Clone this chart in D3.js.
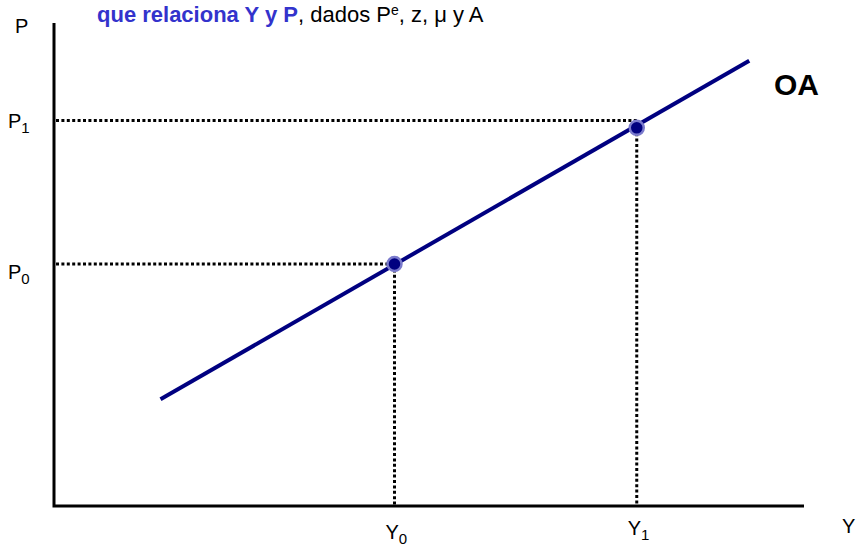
<!DOCTYPE html>
<html>
<head>
<meta charset="utf-8">
<script src="https://cdn.jsdelivr.net/npm/d3@7"></script>
<style>
  html, body { margin: 0; padding: 0; background: #fff; }
  svg { display: block; font-family: Arial, "Liberation Sans", sans-serif; }
</style>
</head>
<body>
<svg id="chart" width="860" height="547"></svg>
<script>
// abstract units, both axes 0..10
const curveOA = [[1.42, 2.21], [9.27, 9.22]];
const eqPoints = [
    { y: 4.54, p: 5.01 },
    { y: 7.77, p: 7.83 },
];
const guideLevels = [
    { y: 4.54, p: 5.01 },
    { y: 7.77, p: 7.98 },
];
const xTickLabels = [
    { v: 4.54, name: 'Y', sub: '0', dy: 13 },
    { v: 7.77, name: 'Y', sub: '1', dy: 9 },
];
const yTickLabels = [
    { v: 5.01, name: 'P', sub: '0', dy: 15 },
    { v: 7.98, name: 'P', sub: '1', dy: 7 },
];

const C = {
    navy: '#000080',
    ring: '#7a7acc',
    blue: '#3333cc',
};

const svg = d3.select('#chart');
const x = d3.scaleLinear().domain([0, 10]).range([54, 804]);
const y = d3.scaleLinear().domain([0, 10]).range([506, 23]);

// title fragment
const title = svg.append('text')
    .attr('x', 97)
    .attr('y', 22)
    .style('font-size', '22px');
title.append('tspan').attr('fill', C.blue).style('font-weight', 'bold').text('que relaciona Y y P');
title.append('tspan').attr('fill', '#000').text(', dados P');
title.append('tspan').attr('fill', '#000').attr('dy', -7).style('font-size', '14px').text('e');
title.append('tspan').attr('fill', '#000').attr('dy', 7).text(', z, μ y A');

// axes
svg.append('path')
    .attr('d', d3.line()([[x(0), y(10)], [x(0), y(0)], [x(10), y(0)]]))
    .attr('fill', 'none')
    .attr('stroke', '#000')
    .attr('stroke-width', 3);

svg.append('text').attr('x', 15).attr('y', 33).style('font-size', '20px').text('P');
svg.append('text').attr('x', 842).attr('y', 533).style('font-size', '20px').text('Y');

// dotted guides
const guides = svg.append('g')
    .attr('stroke', '#000')
    .attr('stroke-width', 3)
    .attr('stroke-dasharray', '3,2.4')
    .attr('fill', 'none');

guides.selectAll('line.h')
    .data(guideLevels)
    .join('line')
    .attr('class', 'h')
    .attr('x1', x(0) + 2).attr('x2', (d) => x(d.y))
    .attr('y1', (d) => y(d.p)).attr('y2', (d) => y(d.p));

guides.selectAll('line.v')
    .data(eqPoints)
    .join('line')
    .attr('class', 'v')
    .attr('x1', (d) => x(d.y)).attr('x2', (d) => x(d.y))
    .attr('y1', (d) => y(d.p)).attr('y2', y(0) - 1);

// OA curve
svg.append('path')
    .attr('d', d3.line().x((d) => x(d[0])).y((d) => y(d[1]))(curveOA))
    .attr('fill', 'none')
    .attr('stroke', C.navy)
    .attr('stroke-width', 4);

svg.append('text')
    .attr('x', 774).attr('y', 95)
    .style('font-size', '30px').style('font-weight', 'bold')
    .text('OA');

// equilibrium points
svg.selectAll('circle.pt')
    .data(eqPoints)
    .join('circle')
    .attr('class', 'pt')
    .attr('cx', (d) => x(d.y))
    .attr('cy', (d) => y(d.p))
    .attr('r', 7)
    .attr('fill', C.navy)
    .attr('stroke', C.ring)
    .attr('stroke-width', 2.5);

// tick labels with subscripts
function subLabel(sel, name, sub) {
    sel.append('tspan').style('font-size', '20px').text(name);
    sel.append('tspan').attr('dy', 5).style('font-size', '15px').text(sub);
}

svg.selectAll('text.xl')
    .data(xTickLabels)
    .join('text')
    .attr('class', 'xl')
    .attr('x', (d) => x(d.v) - 9)
    .attr('y', (d) => y(0) + 20 + d.dy)
    .each(function (d) { subLabel(d3.select(this), d.name, d.sub); });

svg.selectAll('text.yl')
    .data(yTickLabels)
    .join('text')
    .attr('class', 'yl')
    .attr('x', 8)
    .attr('y', (d) => y(d.v) + d.dy)
    .each(function (d) { subLabel(d3.select(this), d.name, d.sub); });
</script>
</body>
</html>
